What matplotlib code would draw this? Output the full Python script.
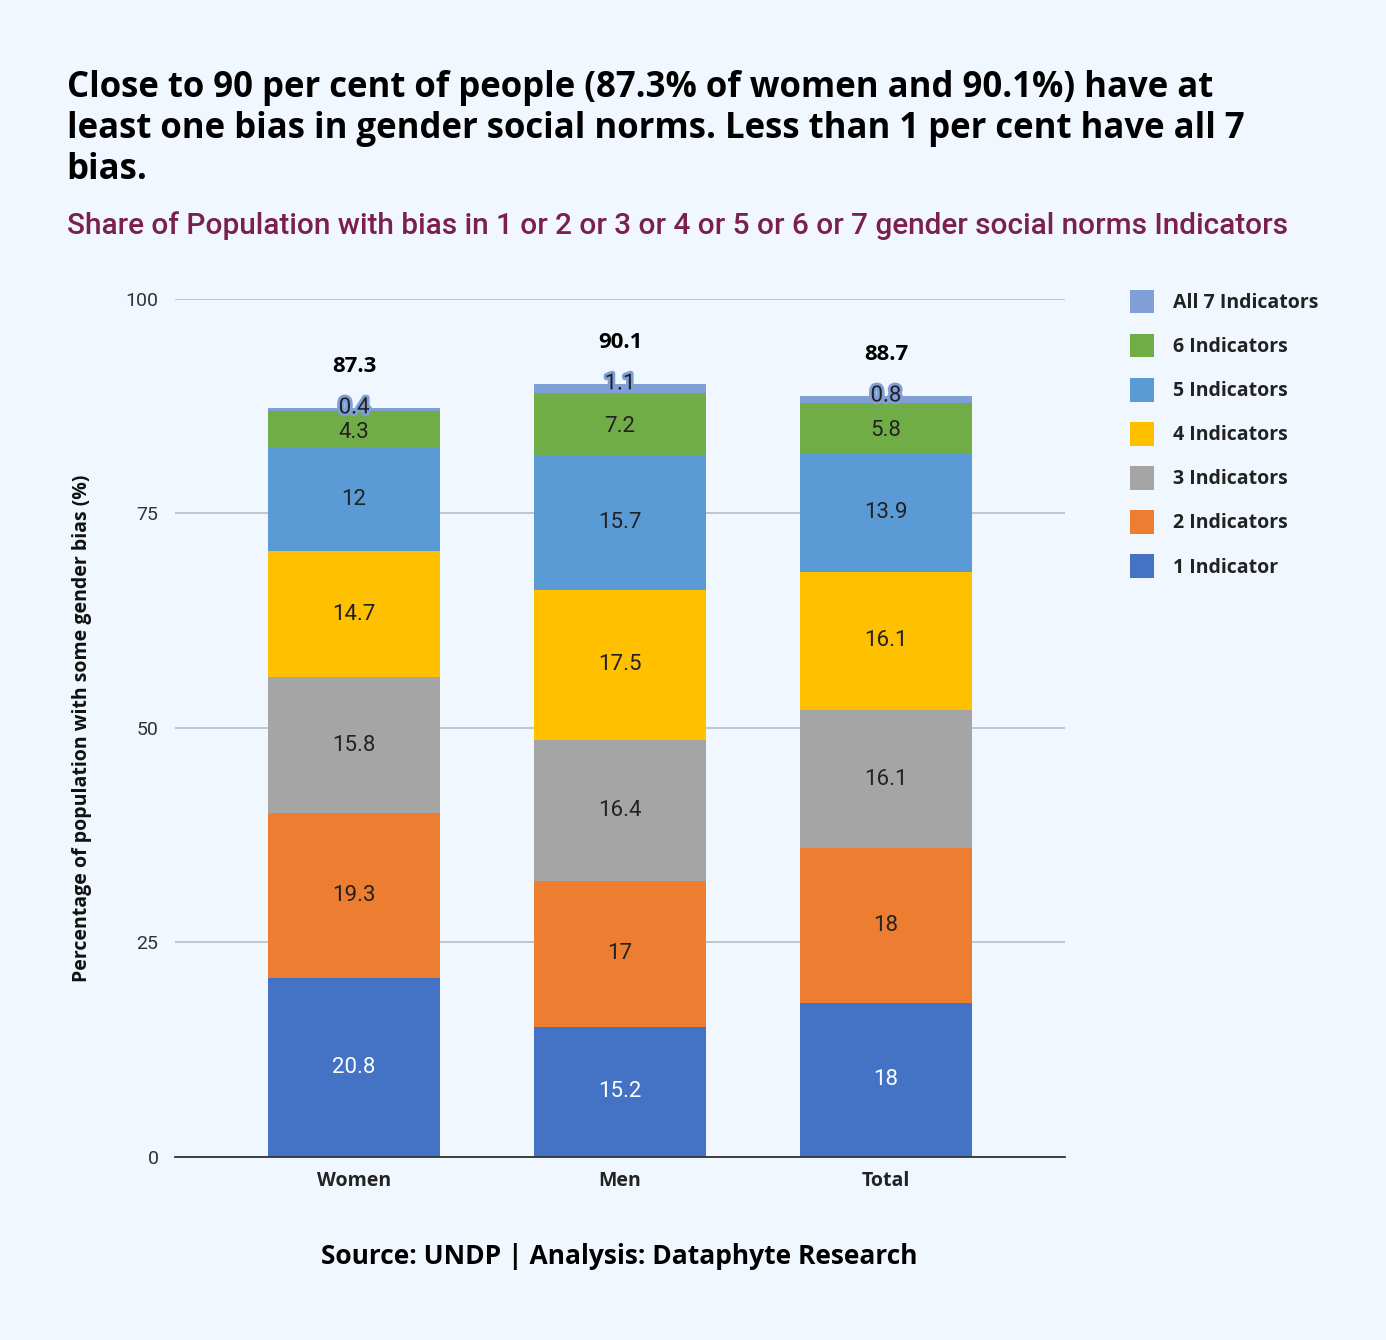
import numpy as np
import matplotlib.pyplot as plt
import matplotlib.patheffects as pe

# data
groups = ['Women', 'Men', 'Total']
series = ['1 Indicator', '2 Indicators', '3 Indicators', '4 Indicators',
          '5 Indicators', '6 Indicators', 'All 7 Indicators']
one_ind = [20.8, 15.2, 18]
two_ind = [19.3, 17, 18]
three_ind = [15.8, 16.4, 16.1]
four_ind = [14.7, 17.5, 16.1]
five_ind = [12, 15.7, 13.9]
six_ind = [4.3, 7.2, 5.8]
seven_ind = [0.4, 1.1, 0.8]
totals = [87.3, 90.1, 88.7]

colors = ['#4472C4', '#ED7D31', '#A5A5A5', '#FFC000', '#5B9BD5', '#70AD47', '#7F9FD6']
bg = '#F0F7FF'

plt.rcParams['font.family'] = ['Open Sans', 'DejaVu Sans']
num_font = ['Roboto', 'DejaVu Sans']

fig = plt.figure(figsize=(13.86, 13.4), dpi=100, facecolor=bg)
ax = fig.add_axes([0.1263, 0.1366, 0.6421, 0.6403], facecolor=bg)

x = np.arange(len(groups))
w = 0.647
bottom = np.zeros(len(groups))
all_vals = [one_ind, two_ind, three_ind, four_ind, five_ind, six_ind, seven_ind]
for i, (vals, name, col) in enumerate(zip(all_vals, series, colors)):
    vals = np.array(vals, dtype=float)
    ax.bar(x, vals, w, bottom=bottom, color=col, label=name, zorder=3)
    for xi, v, b in zip(x, vals, bottom):
        lab = ('%g' % v)
        if i == 6:
            t = ax.text(xi, b + v, lab, ha='center', va='center', fontsize=16,
                        color='#222222', zorder=5, family=num_font)
            t.set_path_effects([pe.withStroke(linewidth=4, foreground=col)])
        elif i == 5:
            ax.text(xi, b + v / 2 - 0.3, lab, ha='center', va='center', fontsize=16,
                    color='#222222', zorder=5, family=num_font)
        else:
            ax.text(xi, b + v / 2, lab, ha='center', va='center', fontsize=16,
                    color='white' if i == 0 else '#222222', zorder=5, family=num_font)
    bottom += vals

for xi, tot, b in zip(x, totals, bottom):
    ax.text(xi, b + 4.8, '%g' % tot, ha='center', va='center', fontsize=16,
            fontweight='bold', color='black', zorder=5)

ax.set_ylim(0, 100)
ax.set_xlim(-0.673, 2.673)
ax.set_yticks([0, 25, 50, 75, 100])
ax.set_xticks(x)
ax.set_xticklabels(groups, fontsize=14, fontweight='bold', color='#222222')
for lbl in ax.get_yticklabels():
    lbl.set_family(num_font)
ax.tick_params(axis='y', labelsize=14, length=0, pad=12, labelcolor='#333333')
ax.tick_params(axis='x', length=0, pad=10)
ax.grid(axis='y', color='#B8BCC2', linewidth=1.2, zorder=0)
for s in ['top', 'right', 'left']:
    ax.spines[s].set_visible(False)
ax.spines['bottom'].set_color('#333333')
ax.spines['bottom'].set_linewidth(1.3)
ax.spines['bottom'].set_zorder(4)
ax.set_ylabel('Percentage of population with some gender bias (%)', fontsize=14,
              fontweight='bold', color='#111111', labelpad=24)

handles, labels = ax.get_legend_handles_labels()
leg = fig.legend(handles[::-1], labels[::-1], loc='upper left', bbox_to_anchor=(0.803, 0.797),
                 frameon=False, fontsize=14, handlelength=1.2, handleheight=1.5,
                 labelspacing=1.05, handletextpad=1.0)
for t in leg.get_texts():
    t.set_fontweight('bold')
    t.set_color('#222222')

fig.text(0.048, 0.948, 'Close to 90 per cent of people (87.3% of women and 90.1%) have at\n'
         'least one bias in gender social norms. Less than 1 per cent have all 7\n'
         'bias.', fontsize=25, fontweight='bold', color='black', va='top',
         linespacing=1.2)
fig.text(0.048, 0.832, 'Share of Population with bias in 1 or 2 or 3 or 4 or 5 or 6 or 7 gender social norms Indicators',
         fontsize=21.4, color='#7B1F4B', va='center', fontweight='medium',
         family=['Roboto', 'DejaVu Sans'])
fig.text(0.447, 0.062, 'Source: UNDP | Analysis: Dataphyte Research', fontsize=19,
         fontweight='bold', color='black', ha='center', va='center')

fig.savefig('out.png', dpi=100, facecolor=bg)
